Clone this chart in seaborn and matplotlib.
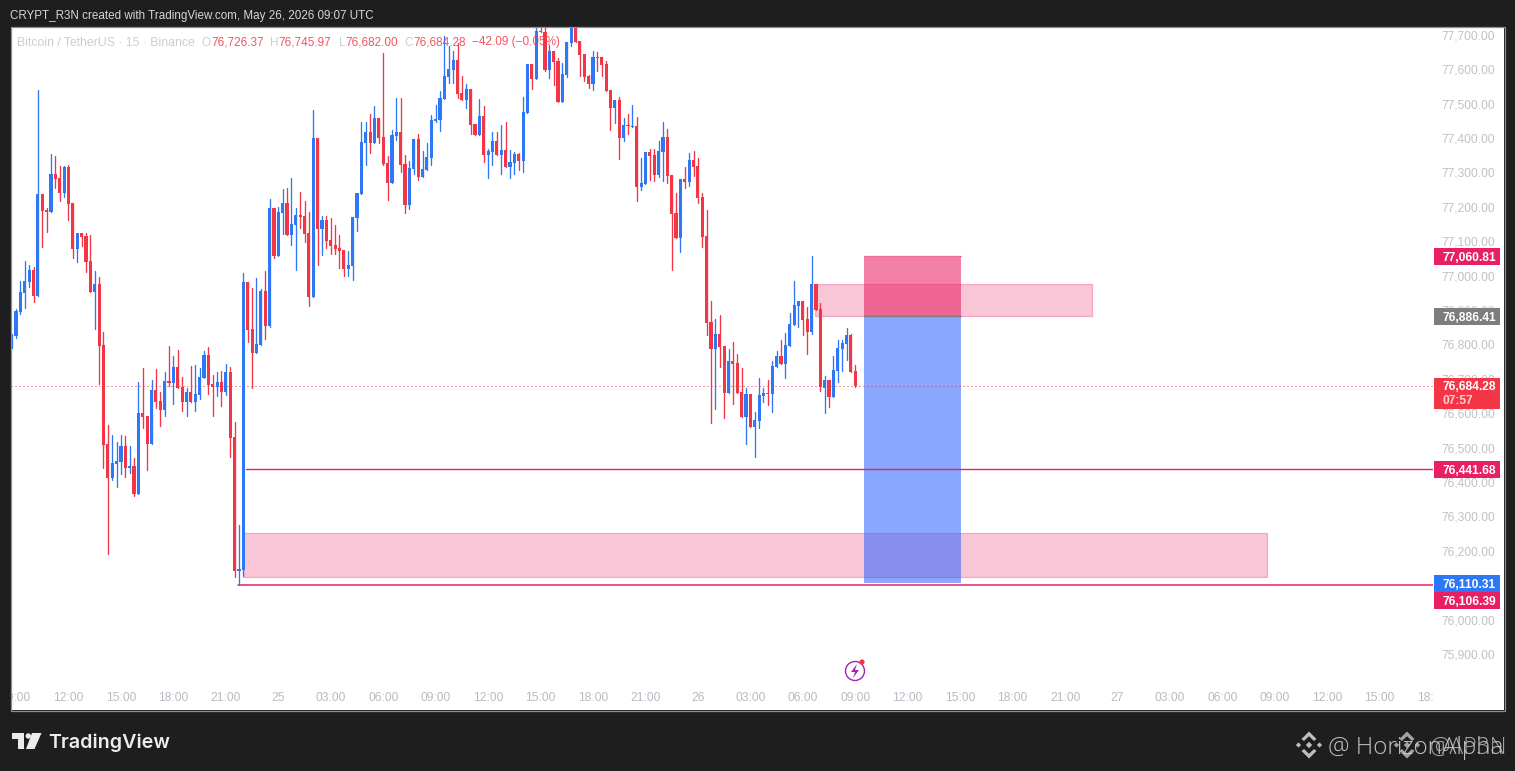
import numpy as np
import pandas as pd
import matplotlib
matplotlib.use("Agg")
import matplotlib.pyplot as plt
from matplotlib.patches import Rectangle, Polygon, Circle
from matplotlib.transforms import Affine2D, ScaledTranslation, blended_transform_factory
import seaborn as sns

# ---- data -----------------------------------------------------------------
opens = [76806,76829,76899,76954,76986,77021,76945,77242,77195,77189,
77300,77288,77244,77320,77215,77082,77128,77119,77047,76957,
76980,76803,76515,76416,76457,76463,76509,76445,76451,76370,
76605,76596,76515,76672,76640,76614,76698,76692,76739,76681,
76637,76666,76637,76657,76707,76774,76689,76681,76695,76666,
76724,76535,76146,76149,76986,76849,76779,76802,76959,76858,
77201,77061,77186,77215,77122,77151,77180,77178,77128,76942,
77404,77140,77166,77108,77093,77084,77079,77023,77032,77172,
77242,77390,77422,77390,77463,77407,77332,77274,77410,77422,
77329,77210,77314,77401,77291,77311,77346,77454,77457,77518,
77582,77602,77631,77535,77515,77547,77445,77413,77468,77355,
77364,77396,77355,77369,77320,77332,77358,77337,77477,77620,
77576,77716,77713,77602,77657,77628,77509,77588,77681,77750,
77686,77649,77585,77561,77640,77640,77620,77544,77492,77515,
77404,77442,77436,77439,77262,77271,77364,77355,77297,77364,
77408,77297,77187,77114,77286,77277,77341,77323,77233,77120,
76870,76791,76835,76800,76663,76756,76750,76666,76593,76660,
76564,76582,76655,76663,76660,76739,76771,76748,76800,76861,
76916,76931,76878,76841,76980,76908,76678,76701,76652,76727,
76791,76806,76832,76726.37]
highs = [76835,76907,76989,77047,77035,77030,77544,77242,77201,77358,
77352,77323,77323,77326,77215,77128,77128,77128,77122,77018,
77001,76841,76570,76541,76521,76541,76538,76509,76474,76695,
76736,76596,76701,76733,76666,76724,76800,76771,76788,76710,
76678,76742,76745,76736,76785,76797,76716,76724,76727,76748,
76739,76579,76279,77012,76986,76968,76997,76965,77018,77227,
77201,77204,77256,77259,77288,77201,77247,77221,77189,77486,
77404,77178,77178,77172,77151,77122,77079,77076,77175,77244,
77451,77451,77474,77497,77463,77652,77352,77428,77521,77521,
77355,77338,77401,77416,77367,77390,77471,77500,77541,77701,
77672,77657,77681,77585,77561,77547,77445,77518,77497,77372,
77422,77422,77442,77451,77369,77364,77361,77524,77620,77620,
77745,77745,77745,77675,77657,77637,77622,77684,77760,77760,
77686,77649,77588,77657,77654,77640,77628,77544,77515,77524,
77463,77474,77500,77465,77346,77364,77372,77372,77396,77451,
77431,77297,77245,77286,77320,77361,77367,77347,77245,77195,
76931,76878,76890,76800,76791,76812,76777,76736,76678,76660,
76608,76707,76678,76701,76756,76785,76817,76838,76896,76989,
76931,76931,76913,77062,76980,76925,76713,76701,76771,76817,
76817,76852,76835,76745.97]
lows = [76794,76823,76893,76910,76971,76928,76945,77087,77131,77189,
77259,77221,77233,77166,77055,77044,77090,77015,76957,76849,
76689,76445,76195,76410,76390,76428,76419,76431,76364,76370,
76561,76439,76515,76620,76567,76596,76684,76631,76678,76611,
76596,76637,76611,76646,76707,76660,76596,76654,76625,76657,
76477,76128,76106,76131,76811,76678,76779,76802,76820,76855,
77055,77061,77125,77122,77093,77021,77143,77102,76916,76942,
77035,77064,77084,77067,77067,77026,77003,77003,76991,77134,
77242,77326,77361,77390,77390,77326,77224,77274,77399,77306,
77186,77198,77300,77282,77291,77311,77326,77450,77425,77518,
77564,77564,77521,77515,77492,77416,77413,77413,77335,77288,
77326,77355,77300,77320,77288,77300,77311,77306,77477,77547,
77576,77713,77599,77579,77558,77509,77509,77582,77672,77684,
77585,77570,77550,77544,77599,77585,77541,77428,77448,77343,
77396,77416,77436,77221,77253,77271,77282,77279,77291,77280,
77274,77021,77114,77073,77259,77265,77294,77216,77088,76832,
76576,76617,76739,76591,76663,76631,76663,76593,76515,76564,
76477,76561,76637,76628,76608,76739,76748,76707,76800,76861,
76855,76832,76777,76835,76905,76669,76605,76623,76652,76695,
76727,76759,76724,76682]
closes = [76832,76902,76957,76989,77021,76945,77242,77193,77189,77300,
77285,77244,77320,77212,77082,77128,77116,77044,76957,76980,
76800,76512,76416,76460,76465,76509,76445,76451,76370,76605,
76594,76515,76672,76637,76614,76698,76692,76739,76678,76637,
76666,76637,76660,76710,76774,76686,76681,76695,76666,76724,
76532,76146,76152,76986,76846,76779,76805,76959,76858,77201,
77061,77189,77215,77122,77154,77180,77175,77125,76942,77404,
77140,77166,77105,77090,77082,77076,77023,77035,77175,77244,
77393,77422,77390,77463,77404,77329,77274,77413,77422,77326,
77210,77317,77401,77291,77314,77349,77457,77460,77521,77585,
77605,77631,77532,77515,77547,77442,77413,77468,77355,77367,
77396,77355,77369,77320,77335,77358,77337,77480,77620,77576,
77716,77713,77602,77657,77625,77509,77590,77684,77750,77684,
77646,77582,77561,77640,77637,77617,77541,77492,77515,77404,
77442,77439,77439,77262,77274,77364,77352,77297,77367,77408,
77294,77184,77114,77286,77277,77341,77320,77230,77117,76867,
76791,76835,76797,76663,76756,76748,76663,76593,76660,76564,
76585,76657,76663,76660,76742,76771,76748,76803,76864,76919,
76931,76876,76841,76980,76905,76681,76701,76652,76730,76794,
76809,76832,76724,76684.28]

tick_labels = ["09:00","12:00","15:00","18:00","21:00","25","03:00","06:00",
               "09:00","12:00","15:00","18:00","21:00","26","03:00","06:00",
               "09:00","12:00","15:00","18:00","21:00","27","03:00","06:00",
               "09:00","12:00","15:00","18:00"]
price_ticks = list(range(75900, 77701, 100))

last_price = 76684.28
level_line = 76441.68
low_line = 76106.39
box_top = 77060.81
box_mid = 76886.41
box_bottom = 76110.31
zone_a = (76980, 76886)
zone_b = (76256, 76127)

BLUE, RED, PINK = "#2e77f5", "#f23645", "#e91e63"
BG = "#1e1e1e"

W, H = 1515, 771
sns.set_theme(style="white")
plt.rcParams["font.family"] = ["Liberation Sans", "DejaVu Sans"]
plt.rcParams["axes.unicode_minus"] = False

fig = plt.figure(figsize=(W / 100, H / 100), dpi=100, facecolor=BG)
PX = Affine2D().scale(1, -1).translate(0, H)   # figure pixels, y downwards

ax = fig.add_axes([11 / W, (H - 710) / H, (1433 - 11) / W, 683 / H], facecolor="white")
ax2 = fig.add_axes([1433 / W, (H - 710) / H, (1504 - 1433) / W, 683 / H], facecolor="white", sharey=ax)

# ---- candles ---------------------------------------------------------------
df = pd.DataFrame({"open": opens, "high": highs, "low": lows, "close": closes})
df["bar"] = np.arange(len(df))
df["side"] = np.where(df["close"] >= df["open"], "up", "down")
wicks = df.melt(id_vars=["bar", "side"], value_vars=["high", "low"], value_name="price")
sns.lineplot(data=wicks, x="bar", y="price", units="bar", hue="side", estimator=None,
             palette={"up": BLUE, "down": RED}, linewidth=0.95, legend=False, sort=False,
             ax=ax, zorder=4, errorbar=None)
ax.bar(df["bar"], (df["close"] - df["open"]).abs(), bottom=df[["open", "close"]].min(axis=1),
       width=0.72, color=[BLUE if s == "up" else RED for s in df["side"]], linewidth=0, zorder=4)

# ---- scales ----------------------------------------------------------------
px_per_bar = 4.371
x0 = -(11.67 - 11) / px_per_bar
ax.set_xlim(x0, x0 + (1433 - 11) / px_per_bar)
ax.set_ylim(75741.5, 77727.6)
ax.set_xlabel(""); ax.set_ylabel("")
ax.set_xticks(np.arange(1, 326, 12))
ax.set_xticklabels(tick_labels, fontsize=8.64, color="#b8bbc2")
ax.tick_params(axis="x", length=0, pad=-13.2)
ax.tick_params(axis="y", left=False, labelleft=False)
for lab in ax.get_xticklabels():
    lab.set_clip_on(True)
    lab.set_clip_box(ax.bbox)
ax2.set_xticks([])
ax2.set_yticks(price_ticks)
ax2.set_yticklabels([f"{p:,.2f}" for p in price_ticks], fontsize=8.64, color="#bfc2c8")
ax2.tick_params(axis="y", length=0, pad=-44.6, labelleft=True)
up_shift = ScaledTranslation(0, 1.5 / 72 * 0.72 * 1.0, fig.dpi_scale_trans)
for lab in ax2.get_yticklabels():
    lab.set_transform(lab.get_transform() + ScaledTranslation(0, 1.6 / 100, fig.dpi_scale_trans))
for a in (ax, ax2):
    for s in a.spines.values():
        s.set_visible(False)

# ---- drawings --------------------------------------------------------------
def xb(px):
    return x0 + (px - 11) / px_per_bar

def zone(x1, x2, y1, y2, face, alpha, z, edge=None):
    ax.add_patch(Rectangle((xb(x1), y2), xb(x2) - xb(x1), y1 - y2, facecolor=matplotlib.colors.to_rgba(face, alpha),
                           edgecolor=edge or "none", linewidth=0.9 if edge else 0, zorder=z))

edge_pink = matplotlib.colors.to_rgba(PINK, 0.3)
zone(243, 1267, zone_b[0], zone_b[1], PINK, 0.25, 2, edge_pink)
zone(815, 1092, zone_a[0], zone_a[1], PINK, 0.25, 2, edge_pink)
zone(864, 961, box_mid, box_bottom, "#2962ff", 0.55, 3)
zone(864, 961, box_top, box_mid, PINK, 0.57, 3)
ax.plot([xb(864), xb(961)], [box_mid, box_mid], color="#7d7d7d", lw=0.9, zorder=3.5)
ax.plot([xb(864), xb(961)], [box_top, box_top], color="#ee6f98", lw=0.9, zorder=3.5)
ax.plot([xb(246), xb(1433)], [level_line, level_line], color=PINK, lw=1.0, zorder=3.5)
ax.plot([xb(238), xb(1433)], [low_line, low_line], color=PINK, lw=1.1, zorder=3.5)
ax.plot([xb(11), xb(1433)], [last_price, last_price], color=RED, lw=0.72,
        linestyle=(0, (1, 3)), zorder=3.6)

# ---- price badges ----------------------------------------------------------
tr2 = blended_transform_factory(ax2.transAxes, ax2.transData)
px2price = 2.908
def badge(price, text, color, height=17, offset=0):
    yc = price - offset * px2price
    ax2.add_patch(Rectangle((0.014, yc - height / 2 * px2price), 0.93, height * px2price, transform=tr2,
                            facecolor=color, edgecolor="none", zorder=5))
    ax2.text(0.127, yc, text, transform=tr2, color="white", fontsize=8.64, va="center_baseline",
             ha="left", zorder=6, fontweight="bold")

badge(box_top, "77,060.81", PINK)
badge(box_mid, "76,886.41", "#7d7d7d")
yc = last_price - 7.5 * px2price
ax2.add_patch(Rectangle((0.014, yc - 15.5 * px2price), 0.93, 31 * px2price, transform=tr2,
                        facecolor=RED, edgecolor="none", zorder=5))
ax2.text(0.127, last_price, "76,684.28", transform=tr2, color="white", fontsize=8.64, va="center_baseline",
         ha="left", zorder=6, fontweight="bold")
ax2.text(0.127, last_price - 14 * px2price, "07:57", transform=tr2, color="#fbd0d6", fontsize=8.64,
         va="center_baseline", ha="left", zorder=6, fontweight="bold")
badge(level_line, "76,441.68", PINK)
badge(box_bottom, "76,110.31", BLUE)
badge(low_line, "76,106.39", PINK, offset=16)

# ---- panel frame and texts -------------------------------------------------
fig.add_artist(Rectangle((10.5, 26.5), 1494, 684, transform=PX, fill=False, edgecolor="#8f8f8f", linewidth=0.9, zorder=3))

def t(x, y, s, **kw):
    kw.setdefault("fontsize", 8.64)
    kw.setdefault("va", "center_baseline")
    fig.text(x / W, 1 - y / H, s, zorder=6, **kw)

t(10, 14, "CRYPT_R3N created with TradingView.com, May 26, 2026 09:07 UTC", color="#d6d6d6", fontsize=8.38)

t(17, 41, "Bitcoin / TetherUS · 15 · Binance", color="#c2c4c9", alpha=0.85, fontsize=8.84)
legend_parts = [(202, "O", "#c2c4c9"), (211, "76,726.37", RED),
                (270, "H", "#c2c4c9"), (278.5, "76,745.97", RED),
                (338.5, "L", "#c2c4c9"), (345.5, "76,682.00", RED),
                (404.5, "C", "#c2c4c9"), (413, "76,684.28", RED),
                (472, "−42.09 (−0.05%)", RED)]
for x, s, c in legend_parts:
    t(x, 41, s, color=c, alpha=0.85, fontsize=8.5)

# TradingView logo
for pts in ([(12, 733), (24, 733), (24, 749), (17.5, 749), (17.5, 739), (12, 739)],
            [(32, 733), (41.5, 733), (34.5, 749), (26, 749)]):
    fig.add_artist(Polygon(pts, closed=True, transform=PX, facecolor="#ececec", edgecolor="none", zorder=6))
fig.add_artist(Circle((28.3, 736), 2.7, transform=PX, facecolor="#ececec", edgecolor="none", zorder=6))
t(48, 741, "TradingView", color="#ececec", fontsize=14.2, family="Inter", fontweight="semibold")

# bolt marker
fig.add_artist(Circle((855, 671), 9.5, transform=PX, fill=False, edgecolor="#9c27b0", linewidth=1.0, zorder=6))
fig.add_artist(Polygon([(857, 664), (851, 672), (855, 672), (853, 678), (859, 670), (855, 670)], closed=True,
                       transform=PX, facecolor="#9c27b0", edgecolor="none", zorder=6))
fig.add_artist(Circle((862, 662), 2.6, transform=PX, facecolor=RED, edgecolor="none", zorder=7))

# watermark
def diamond(cx, cy, alpha):
    c = (0.82, 0.82, 0.82, alpha)
    def d(x, y, r):
        return [(x - r, y), (x, y - r), (x + r, y), (x, y + r)]
    for x, y, r in [(cx, cy, 3.2), (cx - 10.5, cy, 2.6), (cx + 10.5, cy, 2.6)]:
        fig.add_artist(Polygon(d(x, y, r), closed=True, transform=PX, facecolor=c, edgecolor="none", zorder=6))
    for sgn in (-1, 1):
        pts = [(cx - 7.5, cy + sgn * 6), (cx, cy + sgn * 13.5), (cx + 7.5, cy + sgn * 6),
               (cx + 5, cy + sgn * 4), (cx, cy + sgn * 8.8), (cx - 5, cy + sgn * 4)]
        fig.add_artist(Polygon(pts, closed=True, transform=PX, facecolor=c, edgecolor="none", zorder=6))

diamond(1309, 745, 0.9)
diamond(1407, 745, 0.75)
t(1328, 745, "@ HorizonAlpha", color="#d0d0d0", fontsize=17.5, family="Open Sans", fontweight="light", alpha=0.9)
t(1430, 745, "@AP3N", color="#d0d0d0", fontsize=16.6, family="Open Sans", fontweight="light", alpha=0.75)

fig.savefig("out.png", dpi=100, facecolor=BG)
